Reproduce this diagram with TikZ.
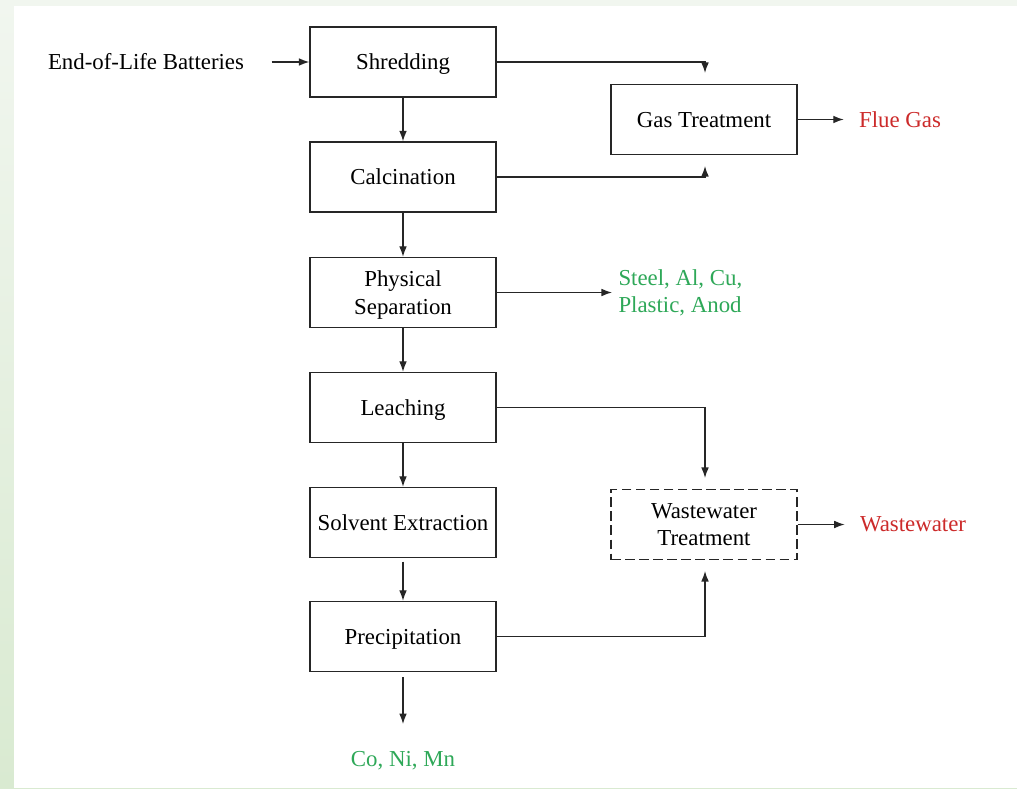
\documentclass[tikz,border=0pt]{standalone}
\usepackage{fontspec}
\setmainfont{Liberation Serif}
\usetikzlibrary{arrows.meta}
\usepackage{xcolor}

\begin{document}
\begin{tikzpicture}[x=0.02cm, y=-0.02cm, line width=0.75pt]

    % style
    \tikzset{font=\fontsize{13}{15.5}\selectfont};
    \definecolor{mygreen}{RGB}{46, 168, 88}
    \definecolor{myred}{RGB}{204, 42, 42}
    \definecolor{mybg1}{RGB}{241, 246, 239}
    \definecolor{mybg2}{RGB}{217, 234, 209}
    \tikzset{procbox/.style={rectangle, draw=black!85, line width=0.75pt, minimum width=3.72cm, minimum height=1.4cm, align=center, inner sep=2pt, text depth=0pt}}
    \tikzset{flow/.style={-{Latex[length=6pt, width=4.4pt]}, draw=black!85}}

    % background strip on the left and the top, white page
    \fill [top color=mybg1, bottom color=mybg2] (0,0) rectangle (1017,788);
    \fill [white] (14,6) rectangle (1017,788);

    % reference coordinates for the arrows that stop short of a box
    \coordinate (GasIn1) at (705,73);
    \coordinate (GasIn2) at (705,166);
    \coordinate (WasteIn1) at (705,478);
    \coordinate (WasteIn2) at (705,571);

    % process chain
    \node [procbox] (shred) at (403,62) {Shredding};
    \node [procbox] (calc) at (403,177) {Calcination};
    \node [procbox] (phys) at (403,292.5) {Physical\\Separation};
    \node [procbox] (leach) at (403,407.5) {Leaching};
    \node [procbox] (solv) at (403,522.5) {Solvent Extraction};
    \node [procbox] (precip) at (403,636.5) {Precipitation};

    % treatment boxes
    \node [procbox] (gas) at (704,119.5) {Gas Treatment};
    \node [procbox, dash pattern=on 5.5pt off 2.5pt] (waste) at (704,524.5) {Wastewater\\Treatment};

    % inputs and outputs
    \node (eol) at (146,62) {End-of-Life Batteries};
    \node [text=myred] (flue) at (900,119.5) {Flue Gas};
    \node [text=myred] (wwout) at (913,524.5) {Wastewater};
    \node [text=mygreen, align=left, anchor=west] (metals) at (612,292.5) {Steel, Al, Cu,\\Plastic, Anod};
    \node [text=mygreen] (cnm) at (403,761) {Co, Ni, Mn};

    % main flow
    \draw [flow, shorten <=12pt] (eol) -- (shred);
    \draw [flow] (shred) -- (calc);
    \draw [flow] (calc) -- (phys);
    \draw [flow] (phys) -- (leach);
    \draw [flow] (leach) -- (solv);
    \draw [flow, shorten <=2pt] (solv) -- (precip);
    \draw [flow, shorten <=3pt, shorten >=12pt] (precip) -- (cnm);

    % side streams
    \draw [flow] (shred.east) -| (GasIn1);
    \draw [flow] (calc.east) -| (GasIn2);
    \draw [flow] (phys) -- (metals);
    \draw [flow, shorten >=5pt] (gas) -- (flue);
    \draw [flow] (leach.east) -| (WasteIn1);
    \draw [flow] (precip.east) -| (WasteIn2);
    \draw [flow, shorten >=5pt] (waste) -- (wwout);

\end{tikzpicture}
\end{document}
